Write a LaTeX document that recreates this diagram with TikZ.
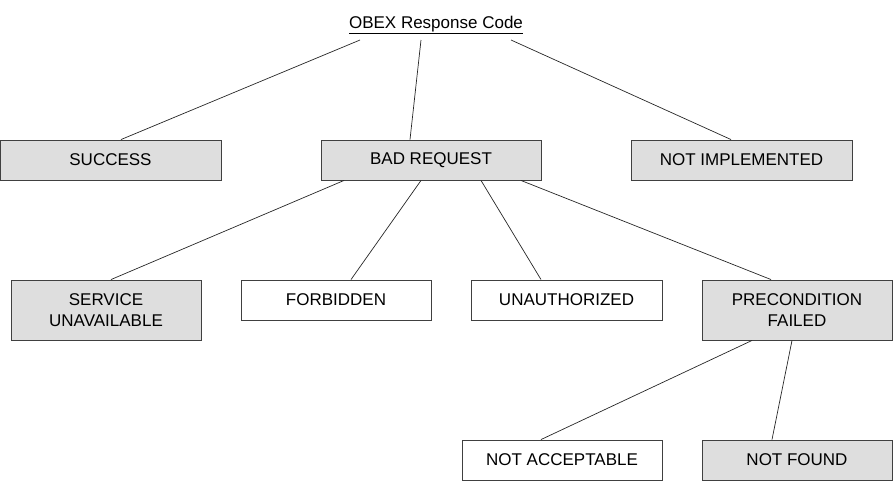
\documentclass[tikz,border=0pt]{standalone}
\usepackage{fontspec}
\setmainfont{Liberation Sans}
\begin{document}
\begin{tikzpicture}[x=1pt,y=-1pt,
  box/.style={draw=black!75,line width=0.9pt,inner sep=0pt,minimum height=40pt,align=center,font=\fontsize{17}{21}\selectfont},
  gbox/.style={box,fill=black!13},
  wbox/.style={box,fill=white},
  conn/.style={draw=black!85,line width=0.7pt}]
\useasboundingbox (0,0) rectangle (896,483);
\node[font=\fontsize{17}{21}\selectfont,inner sep=0pt] (root) at (436,25) {\underline{OBEX Response Code}};
\node[gbox,minimum width=221pt] (succ) at (110.5,160) {SUCCESS};
\node[gbox,minimum width=220pt] (bad) at (431,160) {BAD REQUEST};
\node[gbox,minimum width=221pt] (ni) at (741.5,160) {NOT IMPLEMENTED};
\node[gbox,minimum width=190pt,minimum height=60pt] (su) at (106,310) {SERVICE\\UNAVAILABLE};
\node[wbox,minimum width=190pt] (fb) at (336,300) {FORBIDDEN};
\node[wbox,minimum width=191pt] (ua) at (566.5,300) {UNAUTHORIZED};
\node[gbox,minimum width=190pt,minimum height=60pt] (pf) at (797,310) {PRECONDITION\\FAILED};
\node[wbox,minimum width=200pt] (na) at (562,460) {NOT ACCEPTABLE};
\node[gbox,minimum width=190pt] (nf) at (797,460) {NOT FOUND};
\coordinate (r1) at (360,40); \coordinate (r2) at (421,40); \coordinate (r3) at (511,40);
\draw[conn] (r1) -- ([xshift=10.5pt]succ.north);
\draw[conn] (r2) -- ([xshift=-21pt]bad.north);
\draw[conn] (r3) -- ([xshift=-10.5pt]ni.north);
\draw[conn] ([xshift=-87pt]bad.south) -- ([xshift=5pt]su.north);
\draw[conn] ([xshift=-10pt]bad.south) -- ([xshift=15pt]fb.north);
\draw[conn] ([xshift=50pt]bad.south) -- ([xshift=-25.5pt]ua.north);
\draw[conn] ([xshift=90pt]bad.south) -- ([xshift=-26pt]pf.north);
\draw[conn] ([xshift=-45pt]pf.south) -- ([xshift=-21pt]na.north);
\draw[conn] ([xshift=-5pt]pf.south) -- ([xshift=-25pt]nf.north);
\end{tikzpicture}
\end{document}
